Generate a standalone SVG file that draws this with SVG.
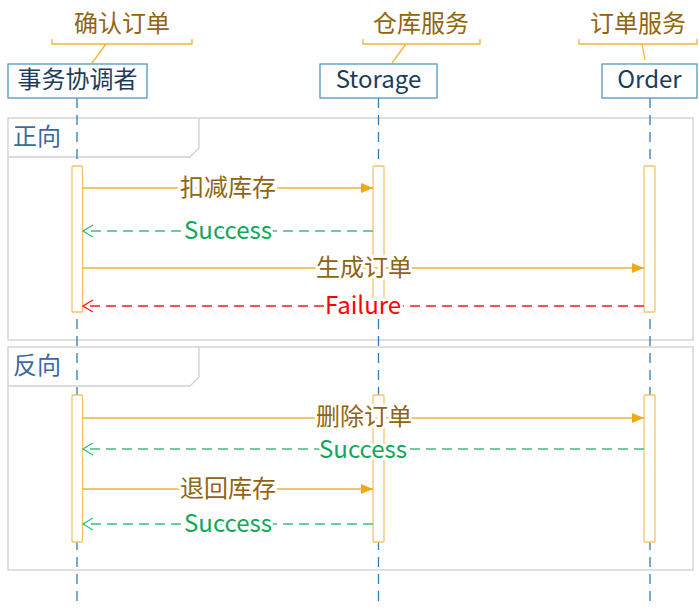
<svg xmlns="http://www.w3.org/2000/svg" width="699" height="609" viewBox="0 0 699 609">
<defs>
<style>
.t{font-family:"Noto Sans CJK SC","Noto Sans","Liberation Sans",sans-serif;font-size:24px;}
.hdr{fill:#8f6512;}
.node rect{fill:#fff;stroke:#4f97c4;stroke-width:1.3;}
.node text{fill:#1d3c5c;}
.brk{fill:none;stroke:#f2b33d;stroke-width:1.3;}
.life{stroke:#2e7db3;stroke-width:1.3;stroke-dasharray:10 7;}
.act{fill:#fff;stroke:#f5c46a;stroke-width:1.3;}
.frag{fill:none;stroke:#cfcfcf;stroke-width:1.3;}
.ftxt{fill:#3b6aa3;}
.call{stroke:#f0b034;stroke-width:1.3;fill:none;}
.ok{stroke:#3cc07c;stroke-width:1.3;stroke-dasharray:10 6;fill:none;}
.bad{stroke:#ff1a1a;stroke-width:1.3;stroke-dasharray:10 6;fill:none;}
.lbl{stroke:#fff;stroke-width:6;stroke-linejoin:round;paint-order:stroke;}
.lc{fill:#8f6512;}
.lg{fill:#0fa858;}
.lr{fill:#ff0000;}
</style>
<marker id="af" viewBox="0 0 12 10" refX="12" refY="5" markerWidth="12" markerHeight="10" markerUnits="userSpaceOnUse" orient="auto">
<path d="M0,0 L12,5 L0,10 Z" fill="#f0a818"/>
</marker>
<marker id="og" viewBox="0 0 12 14" refX="11" refY="7" markerWidth="12" markerHeight="14" markerUnits="userSpaceOnUse" orient="auto">
<path d="M1,1 L11,7 L1,13" fill="none" stroke="#3cc07c" stroke-width="1.3"/>
</marker>
<marker id="or" viewBox="0 0 12 14" refX="11" refY="7" markerWidth="12" markerHeight="14" markerUnits="userSpaceOnUse" orient="auto">
<path d="M1,1 L11,7 L1,13" fill="none" stroke="#ff1a1a" stroke-width="1.3"/>
</marker>
</defs>
<rect width="699" height="609" fill="#fff"/>

<g id="fragments">
<g id="frag-forward">
<rect class="frag" x="8" y="118" width="685" height="222"/>
<path class="frag" d="M8,157 L190,157 L199,148 L199,118"/>
<text class="t ftxt" x="13" y="145">正向</text>
</g>
<g id="frag-reverse">
<rect class="frag" x="8" y="347" width="685" height="223"/>
<path class="frag" d="M8,386 L190,386 L199,377 L199,347"/>
<text class="t ftxt" x="13" y="374">反向</text>
</g>
</g>

<g id="headers">
<g id="hdr-coord">
<text class="t hdr" x="122" y="32" text-anchor="middle">确认订单</text>
<path class="brk" d="M52,39 L52,44 L192,44 L192,39 M106,44 L92,63"/>
</g>
<g id="hdr-storage">
<text class="t hdr" x="421" y="32" text-anchor="middle">仓库服务</text>
<path class="brk" d="M363,39 L363,44 L480,44 L480,39 M406,44 L392,63"/>
</g>
<g id="hdr-order">
<text class="t hdr" x="638" y="32" text-anchor="middle">订单服务</text>
<path class="brk" d="M579,39 L579,44 L697,44 L697,39 M642,44 L645,60"/>
</g>
</g>

<g id="lifelines">
<line class="life" x1="77" y1="98" x2="77" y2="603"/>
<line class="life" x1="378.5" y1="98" x2="378.5" y2="603"/>
<line class="life" x1="650" y1="98" x2="650" y2="603"/>
</g>

<g id="node-coordinator" class="node">
<rect x="8" y="64" width="139" height="34"/>
<text class="t" x="77.5" y="88" text-anchor="middle">事务协调者</text>
</g>
<g id="node-storage" class="node">
<rect x="320" y="64" width="117" height="34"/>
<text class="t" x="378.5" y="88" text-anchor="middle">Storage</text>
</g>
<g id="node-order" class="node">
<rect x="602" y="64" width="95" height="34"/>
<text class="t" x="649.5" y="88" text-anchor="middle">Order</text>
</g>

<g id="activations">
<rect class="act" x="72" y="166" width="10.5" height="146" rx="1"/>
<rect class="act" x="373" y="166" width="11" height="146" rx="1"/>
<rect class="act" x="644" y="166" width="11" height="146" rx="1"/>
<rect class="act" x="72" y="395" width="10.5" height="147" rx="1"/>
<rect class="act" x="373" y="395" width="11" height="147" rx="1"/>
<rect class="act" x="644" y="395" width="11" height="147" rx="1"/>
</g>

<g id="connectors">
<line class="call" x1="82.5" y1="188" x2="373" y2="188" marker-end="url(#af)"/>
<line class="ok" x1="373" y1="231" x2="83" y2="231" marker-end="url(#og)"/>
<line class="call" x1="82.5" y1="268" x2="644" y2="268" marker-end="url(#af)"/>
<line class="bad" x1="644" y1="306" x2="83" y2="306" marker-end="url(#or)"/>
<line class="call" x1="82.5" y1="418" x2="644" y2="418" marker-end="url(#af)"/>
<line class="ok" x1="644" y1="449" x2="83" y2="449" marker-end="url(#og)"/>
<line class="call" x1="82.5" y1="489" x2="373" y2="489" marker-end="url(#af)"/>
<line class="ok" x1="373" y1="524" x2="83" y2="524" marker-end="url(#og)"/>
</g>

<g id="labels">
<text class="t lbl lc" x="228" y="196" text-anchor="middle">扣减库存</text>
<text class="t lbl lg" x="228" y="239" text-anchor="middle">Success</text>
<text class="t lbl lc" x="364" y="276" text-anchor="middle">生成订单</text>
<text class="t lbl lr" x="363" y="314" text-anchor="middle">Failure</text>
<text class="t lbl lc" x="364" y="425" text-anchor="middle">删除订单</text>
<text class="t lbl lg" x="363" y="458" text-anchor="middle">Success</text>
<text class="t lbl lc" x="228" y="497" text-anchor="middle">退回库存</text>
<text class="t lbl lg" x="228" y="532" text-anchor="middle">Success</text>
</g>
</svg>
